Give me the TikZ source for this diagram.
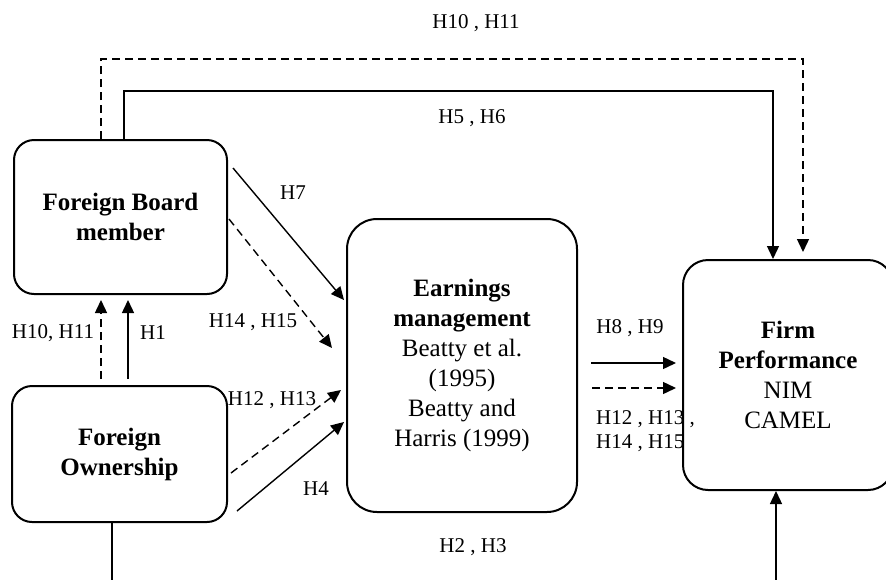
\documentclass[tikz,border=0pt]{standalone}
\usepackage{fontspec}
\setmainfont{Liberation Serif}
\usetikzlibrary{arrows.meta, positioning, calc}

\begin{document}
\begin{tikzpicture}[x=1pt, y=-1pt,
    box/.style={draw, line width=2pt, rounded corners=#1, align=center, inner sep=0pt,
        font=\fontsize{25}{30}\selectfont},
    box/.default=20pt,
    lbl/.style={inner sep=0pt, font=\fontsize{21}{24}\selectfont},
    solidarr/.style={line width=1.4pt, -{Triangle[length=13pt, width=12pt]}},
    dasharr/.style={solidarr, dash pattern=on 8pt off 5pt}]
    \useasboundingbox (0,0) rectangle (886,579);
    \clip (0,0) rectangle (886,579);

    \node[box, minimum width=213pt, minimum height=154pt] (fb) at (120.5,217)
        {\textbf{Foreign Board}\\\textbf{member}};
    \node[box, minimum width=215pt, minimum height=136pt] (fo) at (119.5,454)
        {\textbf{Foreign}\\\textbf{Ownership}};
    \node[box=30pt, minimum width=230pt, minimum height=293pt] (em) at (462,365.5)
        {\textbf{Earnings}\\\textbf{management}\\Beatty et al.\\(1995)\\Beatty and\\Harris (1999)};
    \node[box=25pt, minimum width=210pt, minimum height=230pt] (fp) at (788,375)
        {\textbf{Firm}\\\textbf{Performance}\\NIM\\CAMEL};

    \draw[dasharr] ($(fb.north)+(-19.5,0)$) -- ++(0,-80) -| ($(fp.north)+(15,-7)$);
    \draw[solidarr] ($(fb.north)+(3.5,0)$) -- ++(0,-48) -| ($(fp.north)+(-15,0)$);
    \node[lbl] (h1011top) at (476,23) {H10 , H11};
    \node[lbl] (h56) at (472,118) {H5 , H6};

    \draw[dasharr] ($(fo.north)+(-18.5,-6)$) -- ($(fb.south)+(-19.5,5)$);
    \draw[solidarr] ($(fo.north)+(8.5,-6)$) -- ($(fb.south)+(7.5,5)$);
    \node[lbl] (h1011) at (53,333) {H10, H11};
    \node[lbl] (h1) at (153,333) {H1};

    \draw[solidarr] ($(fb.north east)+(5,29)$) -- ($(em.west)+(-2,-65.5)$);
    \draw[dasharr] ($(fb.east)+(1,2)$) -- ($(em.west)+(-14,-17.5)$);
    \node[lbl] (h7) at (293,193) {H7};
    \node[lbl] (h1415) at (253,322) {H14 , H15};

    \draw[dasharr] ($(fo.east)+(3,19)$) -- ($(em.west)+(-5,24.5)$);
    \draw[solidarr] ($(fo.south east)+(9,-12)$) -- ($(em.west)+(-2,56.5)$);
    \node[lbl] (h1213) at (272,400) {H12 , H13};
    \node[lbl] (h4) at (316,489) {H4};

    \draw[solidarr] ($(em.east)+(13,-2.5)$) -- ($(fp.west)+(-6,-12)$);
    \draw[dasharr] ($(em.east)+(14,22.5)$) -- ($(fp.west)+(-6,13)$);
    \node[lbl] (h89) at (630,328) {H8 , H9};
    \node[lbl, align=left, anchor=west] (h1215) at (596,431) {H12 , H13 ,\\H14 , H15};

    \draw[solidarr] ($(fo.south)+(-7.5,0)$) -- ++(0,100) -| ($(fp.south)+(-12,0)$);
    \node[lbl] (h23) at (473,547) {H2 , H3};
\end{tikzpicture}
\end{document}
